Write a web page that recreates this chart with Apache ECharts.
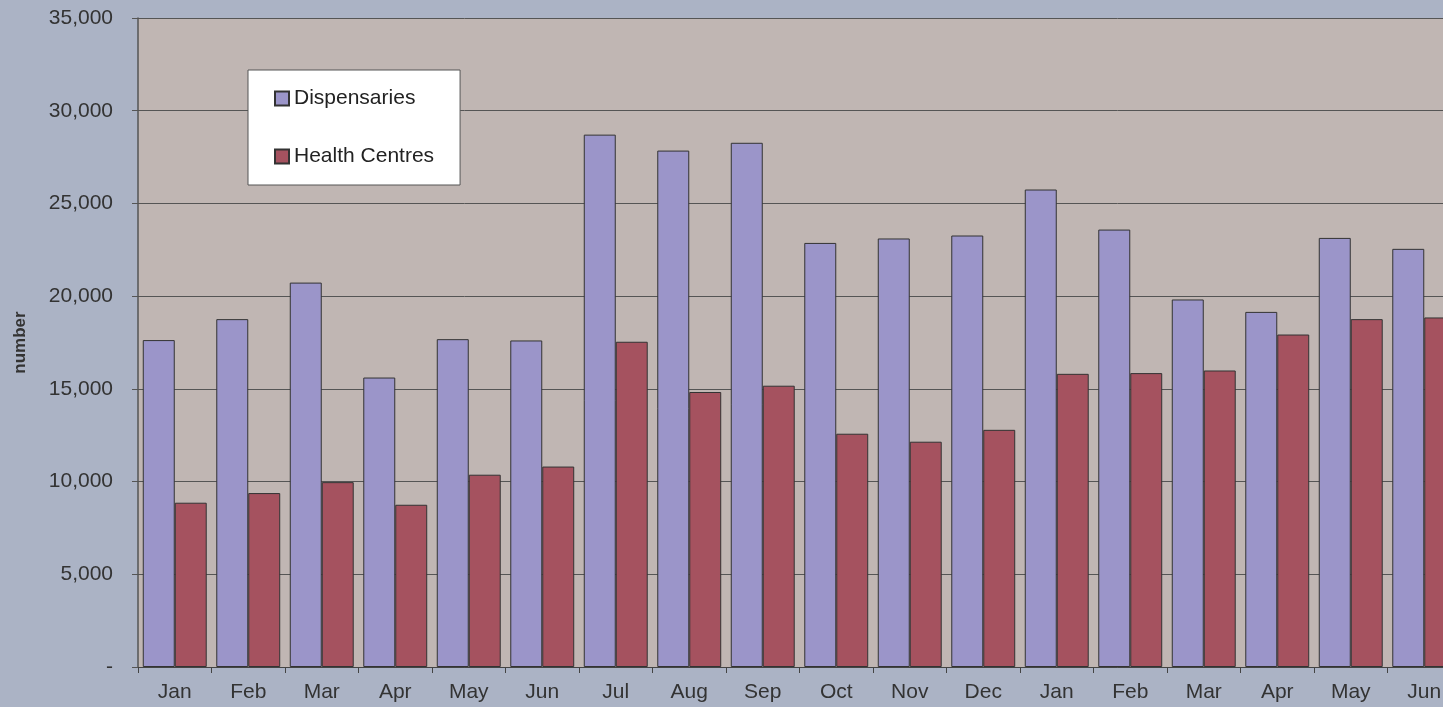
<!DOCTYPE html>
<html>
<head>
<meta charset="utf-8">
<script src="https://cdn.jsdelivr.net/npm/echarts@6/dist/echarts.min.js"></script>
<style>
  html, body { margin: 0; padding: 0; background: #abb3c5; }
  #chart { width: 1443px; height: 707px; }
</style>
</head>
<body>
<div id="chart"></div>
<script>
// months (two half years shown)
const months = ['Jan', 'Feb', 'Mar', 'Apr', 'May', 'Jun', 'Jul', 'Aug', 'Sep', 'Oct', 'Nov', 'Dec',
  'Jan', 'Feb', 'Mar', 'Apr', 'May', 'Jun']
const dispensaries = [17630, 18760, 20730, 15610, 17680, 17610, 28710, 27850, 28270, 22870, 23110, 23270,
  25750, 23590, 19820, 19150, 23140, 22550]
const healthCentres = [8860, 9380, 9970, 8750, 10370, 10810, 17540, 14830, 15170, 12580, 12150, 12790,
  15810, 15850, 15990, 17930, 18760, 18850]
const yTicks = { min: 0, max: 35000, interval: 5000 }

const chart = echarts.init(document.getElementById('chart'))
const font = 'Liberation Sans, Arial, sans-serif'

const option = {
  backgroundColor: '#abb3c5',
  animation: false,
  textStyle: { fontFamily: font },
  // plot runs a bit past the right edge, the last category is cut off
  grid: {
    left: 138,
    width: 1323,
    top: 18,
    bottom: 40,
    outerBoundsMode: 'none',
    show: true,
    backgroundColor: '#c0b6b3',
    borderWidth: 0
  },
  legend: {
    orient: 'vertical',
    left: 248,
    top: 70,
    padding: [18, 26, 18, 26],
    backgroundColor: '#ffffff',
    borderColor: '#555555',
    borderWidth: 1,
    borderRadius: 0,
    itemWidth: 14,
    itemHeight: 14,
    itemGap: 37,
    icon: 'rect',
    textStyle: { fontSize: 21, color: '#222', fontFamily: font }
  },
  xAxis: {
    type: 'category',
    data: months,
    axisLine: { lineStyle: { color: '#444', width: 1 } },
    axisTick: { show: true, length: 6, lineStyle: { color: '#444' } },
    axisLabel: { color: '#333', fontSize: 21, margin: 15, fontFamily: font, interval: 0 },
    splitLine: { show: false }
  },
  yAxis: {
    type: 'value',
    min: yTicks.min,
    max: yTicks.max,
    interval: yTicks.interval,
    name: 'number',
    nameLocation: 'middle',
    nameRotate: 90,
    nameGap: 109,
    nameTextStyle: { fontSize: 17, fontWeight: 'bold', color: '#333', fontFamily: font },
    axisLine: { show: true, lineStyle: { color: '#555', width: 1.5 } },
    axisTick: { show: true, length: 6, lineStyle: { color: '#555' } },
    axisLabel: {
      color: '#333',
      fontSize: 21,
      margin: 25,
      fontFamily: font,
      formatter: v => v === 0 ? '-' : String(v).replace(/\B(?=(\d{3})+(?!\d))/g, ',')
    },
    splitLine: { show: true, lineStyle: { color: '#555', width: 1 } }
  },
  series: [
    {
      name: 'Dispensaries',
      type: 'bar',
      data: dispensaries,
      barGap: '0%',
      barCategoryGap: '13%',
      itemStyle: { color: '#9b95c9', borderColor: '#333', borderWidth: 1 }
    },
    {
      name: 'Health Centres',
      type: 'bar',
      data: healthCentres,
      barGap: '0%',
      barCategoryGap: '13%',
      itemStyle: { color: '#a5525f', borderColor: '#333', borderWidth: 1 }
    }
  ]
}

chart.setOption(option)
</script>
</body>
</html>
